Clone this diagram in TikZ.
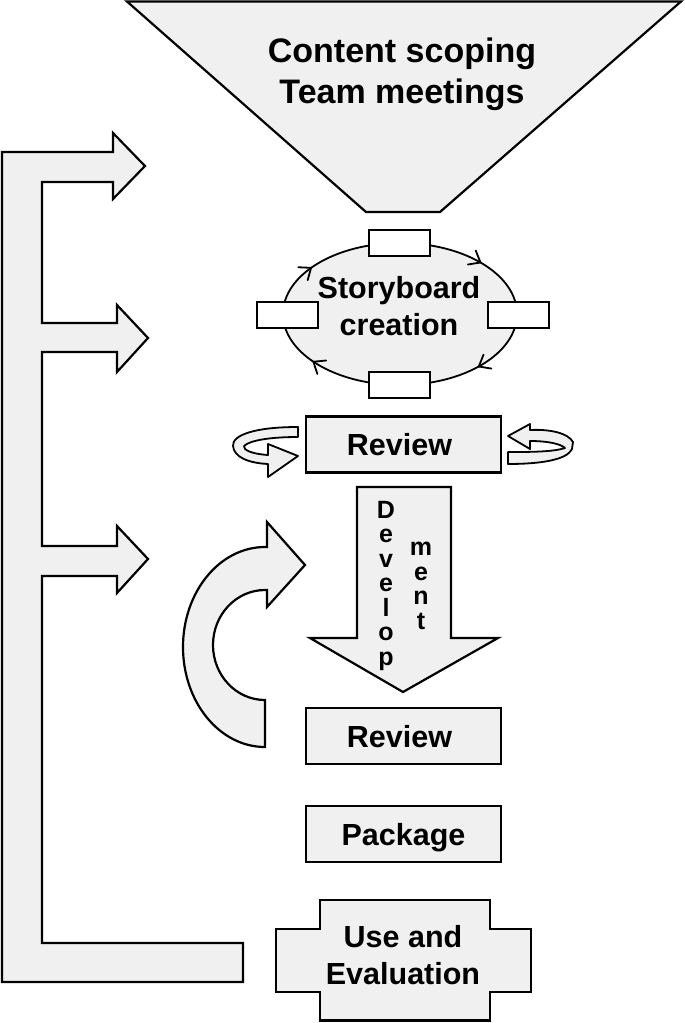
\documentclass[tikz,border=0pt]{standalone}
\usepackage{fontspec}
\setmainfont{Liberation Sans}
\usetikzlibrary{decorations.markings}
\definecolor{shade}{RGB}{240,240,240}
\newcommand\mychevron{\draw[line width=1.8pt,line cap=round,line join=miter] (-9,-8) -- (1,0) -- (-9,8);}
\begin{document}
\begin{tikzpicture}[x=1pt,y=-1pt,
  shapeline/.style={draw=black,line width=2.2pt,fill=shade,line join=miter},
  ribbon/.style={draw=black,line width=1.8pt,fill=shade,line join=round},
  boxnode/.style={shapeline,rectangle,minimum width=195pt,minimum height=56pt,inner sep=0pt,
    font=\fontsize{30.5}{37}\selectfont\bfseries,text height=22pt,text depth=0pt},
  lbl/.style={font=\fontsize{30.5}{37.5}\selectfont\bfseries,align=center,inner sep=0pt},
  vlbl/.style={font=\fontsize{25}{24.5}\selectfont\bfseries,align=center,inner sep=0pt,anchor=north},
  tagbox/.style={draw=black,line width=2pt,fill=white,rectangle,minimum width=61pt,minimum height=26pt,inner sep=0pt}
  ]
\useasboundingbox (0,0) rectangle (685,1023);

% funnel
\draw[shapeline] (127,1.5) -- (681,1.5) -- (440,212) -- (366,212) -- cycle;
\node[lbl,font=\fontsize{34}{41}\selectfont\bfseries,anchor=north] (scope) at (402,38) {Content scoping\\Team meetings};

% left bracket with arrows
\draw[shapeline] (2,152) -- (113,152) -- (113,133) -- (145,166) -- (113,199) -- (113,182)
  -- (42,182) -- (42,323) -- (117,323) -- (117,305) -- (148,338) -- (117,372) -- (117,352)
  -- (42,352) -- (42,546) -- (117,546) -- (117,526) -- (148,559) -- (117,593) -- (117,576)
  -- (42,576) -- (42,943) -- (243,943) -- (243,982) -- (2,982) -- cycle;

% storyboard ellipse
\draw[line width=1.8pt,fill=shade,postaction={decorate},
  decoration={markings,
    mark=at position 0.112 with {\mychevron},
    mark=at position 0.400 with {\mychevron},
    mark=at position 0.592 with {\mychevron},
    mark=at position 0.888 with {\mychevron}}]
  (517,314) arc[start angle=0,end angle=360,x radius=117,y radius=71];
\node[tagbox] (tagtop) at (399.5,243) {};
\node[tagbox] (tagleft) at (287.5,315) {};
\node[tagbox] (tagright) at (518,315) {};
\node[tagbox] (tagbottom) at (399.5,384.5) {};
\node[lbl,anchor=north] (story) at (399,276) {Storyboard\\creation};

% first review with circular arrows
\node[boxnode] (review1) at (403.5,444.5) {\hspace*{-8pt}Review};
\draw[ribbon] (298,427) .. controls (255,427) and (232,435) .. (233,446)
  .. controls (234,457) and (248,463) .. (268,464)
  -- (268,477) -- (298,456) -- (268,444) -- (268,455)
  .. controls (252,454) and (243,450) .. (244,446)
  .. controls (250,440) and (272,437) .. (298,437) -- cycle;
\draw[ribbon] (508,452) -- (508,464) .. controls (540,464) and (567,460) .. (572,449)
  -- (573,442) .. controls (568,433) and (550,429) .. (530,430)
  -- (530,424) -- (508,436) -- (530,449) -- (530,441)
  .. controls (548,441) and (561,444) .. (565,448)
  .. controls (553,452) and (530,452) .. (508,452) -- cycle;

% development arrow
\draw[shapeline] (357,487) -- (451,487) -- (451,638) -- (498,638) -- (403,692) -- (310,638) -- (357,638) -- cycle;
\node[vlbl] (develop) at (386,501) {D\\e\\v\\e\\l\\o\\p};
\node[vlbl] (ment) at (421,542) {m\\e\\n\\t};

% curved return arrow
\draw[shapeline] (265,747) arc[start angle=90,end angle=270,x radius=82,y radius=100]
  -- (267,547) -- (267,522) -- (305,565) -- (267,607) -- (267,590) -- (265,590)
  arc[start angle=270,end angle=90,x radius=52,y radius=55] -- cycle;

% lower boxes
\node[boxnode] (review2) at (403.5,736) {\hspace*{-8pt}Review};
\node[boxnode] (package) at (403.5,834) {Package};

% use and evaluation
\draw[shapeline] (320,900) -- (490,900) -- (490,929) -- (531,929) -- (531,992) -- (490,992)
  -- (490,1020.5) -- (320,1020.5) -- (320,992) -- (276,992) -- (276,929) -- (320,929) -- cycle;
\node[lbl,anchor=north] (useeval) at (403,925) {Use and\\Evaluation};
\end{tikzpicture}
\end{document}
